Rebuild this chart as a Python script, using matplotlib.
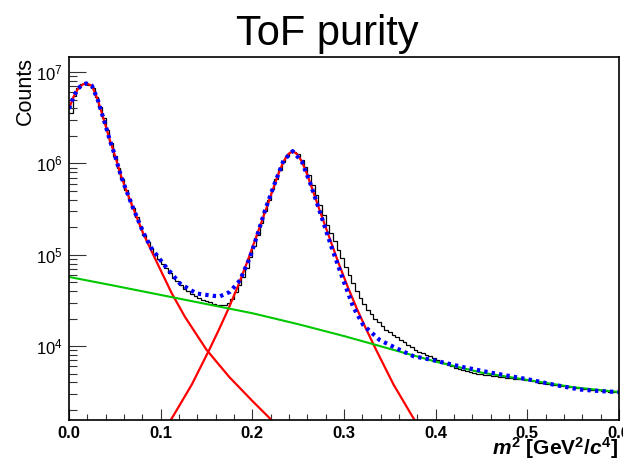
import numpy as np
import matplotlib
matplotlib.use("Agg")
import matplotlib.pyplot as plt
from matplotlib.ticker import FixedLocator, FixedFormatter, NullFormatter, LogLocator, MultipleLocator

plt.rcParams['font.family'] = ['Liberation Sans', 'DejaVu Sans']
plt.rcParams['mathtext.fontset'] = 'custom'
plt.rcParams['mathtext.rm'] = 'Liberation Sans:bold'
plt.rcParams['mathtext.bf'] = 'Liberation Sans:bold'
plt.rcParams['mathtext.it'] = 'Liberation Sans:italic:bold'

# ---------------- data ----------------
title = "ToF purity"
x_range = (0.0, 0.6)
n_bins = 150

# histogram bin contents, log10(counts), bins of width 0.004 from 0 to 0.6
hist_log10 = [
    6.55, 6.74, 6.83, 6.87, 6.875, 6.86, 6.82, 6.73, 6.62, 6.50,
    6.36, 6.22, 6.08, 5.95, 5.83, 5.71, 5.61, 5.51, 5.41, 5.31,
    5.22, 5.14, 5.07, 5.01, 4.95, 4.90, 4.85, 4.80, 4.75, 4.71,
    4.67, 4.63, 4.60, 4.57, 4.55, 4.53, 4.51, 4.49, 4.48, 4.465,
    4.455, 4.45, 4.45, 4.47, 4.52, 4.59, 4.67, 4.76, 4.86, 4.98,
    5.10, 5.22, 5.35, 5.48, 5.60, 5.72, 5.83, 5.93, 6.02, 6.08,
    6.125, 6.13, 6.10, 6.04, 5.96, 5.87, 5.76, 5.65, 5.54, 5.43,
    5.33, 5.24, 5.15, 5.05, 4.96, 4.87, 4.78, 4.69, 4.60, 4.53,
    4.46, 4.40, 4.35, 4.30, 4.26, 4.22, 4.18, 4.15, 4.12, 4.095,
    4.07, 4.04, 4.01, 3.985, 3.96, 3.94, 3.92, 3.905, 3.89, 3.87,
    3.85, 3.83, 3.81, 3.795, 3.78, 3.765, 3.75, 3.74, 3.73, 3.72,
    3.71, 3.70, 3.69, 3.685, 3.68, 3.675, 3.67, 3.665, 3.66, 3.655,
    3.65, 3.645, 3.64, 3.635, 3.63, 3.625, 3.62, 3.61, 3.60, 3.595,
    3.59, 3.58, 3.575, 3.57, 3.565, 3.56, 3.555, 3.55, 3.545, 3.54,
    3.535, 3.53, 3.525, 3.52, 3.515, 3.51, 3.505, 3.50, 3.498, 3.497,
]

# pion component (red)
pion_x = [0.0, 0.005, 0.01, 0.015, 0.019, 0.025, 0.0316, 0.04, 0.0447, 0.05,
          0.0556, 0.06, 0.0665, 0.07, 0.0807, 0.09, 0.1, 0.112, 0.1265, 0.15,
          0.175, 0.2, 0.22, 0.23]
pion_log10 = [6.60, 6.73, 6.82, 6.865, 6.875, 6.85, 6.69, 6.41, 6.25, 6.09,
              5.90, 5.77, 5.60, 5.51, 5.24, 5.04, 4.83, 4.58, 4.32, 3.96,
              3.66, 3.40, 3.20, 3.10]

# kaon component (red)
kaon_x = [0.104, 0.114, 0.124, 0.134, 0.144, 0.154, 0.164, 0.174, 0.184, 0.194,
          0.204, 0.214, 0.224, 0.229, 0.234, 0.239, 0.244, 0.249, 0.254, 0.259,
          0.264, 0.274, 0.284, 0.294, 0.304, 0.314, 0.324, 0.334, 0.344, 0.354,
          0.364, 0.374, 0.384]
kaon_log10 = [3.08, 3.24, 3.41, 3.58, 3.78, 3.98, 4.19, 4.41, 4.65, 4.91,
              5.19, 5.47, 5.76, 5.90, 6.02, 6.10, 6.134, 6.10, 6.02, 5.90,
              5.76, 5.47, 5.19, 4.91, 4.65, 4.41, 4.19, 3.98, 3.78, 3.58,
              3.41, 3.24, 3.08]

# background component (green)
bg_x = [0.0, 0.05, 0.1, 0.15, 0.2, 0.25, 0.3, 0.35, 0.4, 0.45, 0.5, 0.55, 0.6]
bg_log10 = [4.757, 4.66, 4.56, 4.46, 4.36, 4.24, 4.11, 3.97, 3.83, 3.71, 3.63, 3.55, 3.497]

# total fit (blue dotted)
tot_x = [0.0, 0.005, 0.01, 0.015, 0.019, 0.025, 0.0316, 0.04, 0.0447, 0.05,
         0.0556, 0.06, 0.0665, 0.07, 0.0807, 0.09, 0.103, 0.121, 0.139, 0.1575,
         0.1647, 0.1756, 0.1865, 0.1974, 0.2065, 0.214, 0.224, 0.234, 0.244, 0.254,
         0.264, 0.274, 0.2865, 0.2993, 0.310, 0.321, 0.339, 0.3575, 0.3756, 0.40,
         0.43, 0.46, 0.503, 0.53, 0.557, 0.58, 0.6]
tot_log10 = [6.60, 6.73, 6.82, 6.865, 6.875, 6.85, 6.69, 6.41, 6.25, 6.09,
             5.90, 5.77, 5.60, 5.51, 5.25, 5.07, 4.90, 4.685, 4.576, 4.55,
             4.545, 4.594, 4.72, 4.97, 5.25, 5.49, 5.77, 6.03, 6.134, 6.02,
             5.76, 5.46, 5.08, 4.72, 4.43, 4.23, 4.066, 3.975, 3.89, 3.84,
             3.77, 3.71, 3.632, 3.575, 3.525, 3.507, 3.497]

y_range = (1553, 1.46e7)
y_major = [1e4, 1e5, 1e6, 1e7]
y_major_labels = [r'$\mathregular{10^{4}}$', r'$\mathregular{10^{5}}$',
                  r'$\mathregular{10^{6}}$', r'$\mathregular{10^{7}}$']
x_label = r'$\mathit{m}^{2}$ [GeV$^{2}$/$\mathit{c}^{4}$]'
y_label = "Counts"

# ---------------- figure ----------------
W, H = 623, 459
fig = plt.figure(figsize=(W / 100, H / 100), dpi=100)
ax = fig.add_axes([69 / W, 39 / H, 550 / W, 363 / H])

edges = np.linspace(x_range[0], x_range[1], n_bins + 1)
ax.stairs(10 ** np.array(hist_log10), edges, color='black', lw=0.9, baseline=None)

ax.plot(pion_x, 10 ** np.array(pion_log10), color='#ff0000', lw=1.6)
ax.plot(kaon_x, 10 ** np.array(kaon_log10), color='#ff0000', lw=1.6)
ax.plot(bg_x, 10 ** np.array(bg_log10), color='#00c800', lw=1.5)
ax.plot(tot_x, 10 ** np.array(tot_log10), color='#0000ff', lw=3.0,
        linestyle=(0, (0.8, 1.0)))

ax.set_yscale('log')
ax.set_xlim(*x_range)
ax.set_ylim(*y_range)

ax.xaxis.set_major_locator(MultipleLocator(0.1))
ax.xaxis.set_minor_locator(MultipleLocator(0.02))
ax.xaxis.set_major_formatter(matplotlib.ticker.FormatStrFormatter('%.1f'))

ax.yaxis.set_major_locator(FixedLocator(y_major))
ax.yaxis.set_major_formatter(FixedFormatter(y_major_labels))
ax.yaxis.set_minor_locator(LogLocator(base=10, subs=np.arange(2, 10)))
ax.yaxis.set_minor_formatter(NullFormatter())

ax.tick_params(which='both', direction='in', top=False, right=False, width=0.8, color='#333333')
ax.tick_params(axis='x', which='major', length=8, pad=4, labelsize=12)
ax.tick_params(axis='x', which='minor', length=4)
ax.tick_params(axis='y', which='major', length=12, pad=4.5, labelsize=12)
ax.tick_params(axis='y', which='minor', length=6)
for lab in ax.get_xticklabels():
    lab.set_fontweight('bold')

for s in ax.spines.values():
    s.set_linewidth(1.2)

fig.text(327.5 / W, 1 - 45 / H, title, fontsize=30, ha='center', va='baseline')
fig.text(25 / W, 1 - 57 / H, y_label, fontsize=15.5, rotation=90, ha='center', va='top')
fig.text(492 / W, 1 - 455 / H, x_label, fontsize=15, fontweight='bold', ha='left', va='baseline')

fig.savefig('out.png', dpi=100)
